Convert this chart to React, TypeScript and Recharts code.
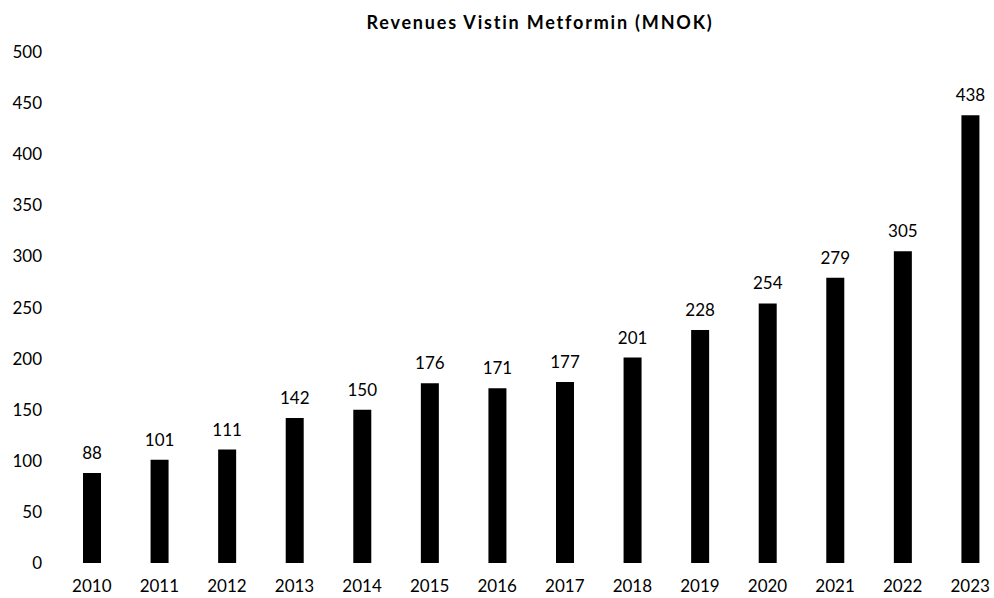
import { BarChart, Bar, XAxis, YAxis, LabelList } from 'recharts';

const years = ['2010', '2011', '2012', '2013', '2014', '2015', '2016', '2017', '2018', '2019', '2020', '2021', '2022', '2023'];
const revenues = [88, 101, 111, 142, 150, 176, 171, 177, 201, 228, 254, 279, 305, 438];
const yTicks = [0, 50, 100, 150, 200, 250, 300, 350, 400, 450, 500];

const data = years.map((year, i) => ({ year, value: revenues[i] }));

const FONT = 'Lato, "Open Sans", sans-serif';

export default function App() {
  return (
    <div
      style={{
        position: 'absolute', left: 0, top: 0, width: 994, height: 598,
        overflow: 'hidden', background: '#fff', fontFamily: FONT,
      }}
    >
      <div
        style={{
          position: 'absolute', left: 0, top: 11, width: 1080, textAlign: 'center',
          fontWeight: 700, fontSize: 18, letterSpacing: 1.8, color: '#000',
        }}
      >
        Revenues Vistin Metformin (MNOK)
      </div>
      {/* plot runs a little past the right edge, as in the source image */}
      <BarChart
        width={1004}
        height={598}
        data={data}
        margin={{ top: 52, right: 0, bottom: 0, left: 0 }}
        barCategoryGap={0}
      >
        <XAxis
          dataKey="year"
          axisLine={false}
          tickLine={false}
          tickSize={0}
          tickMargin={17}
          height={35}
          interval={0}
          tick={{ fill: '#000', fontSize: 17, fontFamily: FONT }}
        />
        <YAxis
          domain={[0, 500]}
          ticks={yTicks}
          axisLine={false}
          tickLine={false}
          tickSize={0}
          tickMargin={16}
          width={58}
          interval={0}
          tick={{ fill: '#000', fontSize: 17, fontFamily: FONT }}
        />
        <Bar dataKey="value" fill="#000" barSize={18} isAnimationActive={false}>
          <LabelList dataKey="value" position="top" offset={14} fill="#000" fontSize={17} fontFamily={FONT} />
        </Bar>
      </BarChart>
    </div>
  );
}
